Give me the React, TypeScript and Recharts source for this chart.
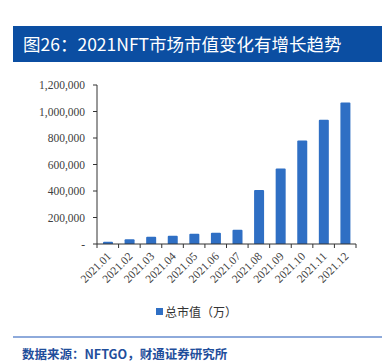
import { Bar, BarChart, XAxis, YAxis } from "recharts";

const MONTHS = [
  "2021.01", "2021.02", "2021.03", "2021.04", "2021.05", "2021.06",
  "2021.07", "2021.08", "2021.09", "2021.10", "2021.11", "2021.12",
];
const MARKET_CAP = [
  17000, 35000, 55000, 62000, 77000, 85000,
  107000, 407000, 570000, 782000, 938000, 1067000,
];
const Y_TICKS = [0, 200000, 400000, 600000, 800000, 1000000, 1200000];

const data = MONTHS.map((m, i) => ({ month: m, value: MARKET_CAP[i] }));

const SERIF = "'Liberation Serif', 'Times New Roman', serif";
const CJK = "'Noto Sans CJK SC', 'Noto Sans', sans-serif";
const BAR_COLOR = "#2F6FC4";

// plot spans x 97..356, 12 bands
const BAND = (356 - 97) / 12;

function MonthTick(props: any) {
  const { x, y, payload, index } = props;
  return (
    <g>
      <line x1={x - BAND / 2} x2={x - BAND / 2} y1={y - 8} y2={y - 4} stroke="#333" />
      {index === MONTHS.length - 1 && (
        <line x1={x + BAND / 2} x2={x + BAND / 2} y1={y - 8} y2={y - 4} stroke="#333" />
      )}
      <text
        x={x + 4}
        y={y + 5}
        transform={`rotate(-45, ${x + 4}, ${y + 5})`}
        textAnchor="end"
        fontFamily={SERIF}
        fontSize={11.5}
        fill="#404040"
      >
        {payload.value}
      </text>
    </g>
  );
}

const fmt = (v: number) => (v === 0 ? "-" : v.toLocaleString("en-US"));

export default function App() {
  return (
    <div style={{ position: "absolute", left: 0, top: 0, width: 382, height: 362, background: "#fff" }}>
      <div
        style={{
          position: "absolute", left: 13, top: 26, width: 369, height: 36,
          background: "#0B4EA2", color: "#fff", fontFamily: CJK, fontSize: 17.5,
          lineHeight: "36px", paddingLeft: 10, boxSizing: "border-box", whiteSpace: "nowrap",
        }}
      >
        图26：2021NFT市场市值变化有增长趋势
      </div>

      <div style={{ position: "absolute", left: 0, top: 0 }}>
        <BarChart
          width={382}
          height={300}
          data={data}
          margin={{ top: 85, right: 26, left: 0, bottom: 0 }}
          barCategoryGap={0}
        >
          <YAxis
            width={97}
            domain={[0, 1200000]}
            ticks={Y_TICKS}
            tickFormatter={fmt}
            interval={0}
            axisLine={{ stroke: "#333" }}
            tickLine={{ stroke: "#333" }}
            tickSize={4}
            tickMargin={8}
            tick={{ fontFamily: SERIF, fontSize: 11.5, fill: "#404040" }}
          />
          <XAxis
            dataKey="month"
            height={56}
            interval={0}
            axisLine={{ stroke: "#333" }}
            tickLine={false}
            tick={<MonthTick />}
          />
          <Bar dataKey="value" fill={BAR_COLOR} barSize={10} radius={[1, 1, 0, 0]} isAnimationActive={false} />
        </BarChart>
      </div>

      <div
        style={{
          position: "absolute", left: 156, top: 303, display: "flex", alignItems: "center",
          fontFamily: CJK, fontSize: 12, color: "#333", whiteSpace: "nowrap",
        }}
      >
        <span style={{ width: 7, height: 7, background: BAR_COLOR, marginRight: 2, display: "inline-block" }} />
        总市值（万）
      </div>

      <div style={{ position: "absolute", left: 13, top: 336, width: 369, height: 1.5, background: "#8EAADB" }} />

      <div
        style={{
          position: "absolute", left: 22, top: 345, fontFamily: CJK, fontSize: 12.5,
          fontWeight: 700, color: "#1F4E9B", whiteSpace: "nowrap", lineHeight: "17px",
        }}
      >
        数据来源：NFTGO，财通证券研究所
      </div>
    </div>
  );
}
